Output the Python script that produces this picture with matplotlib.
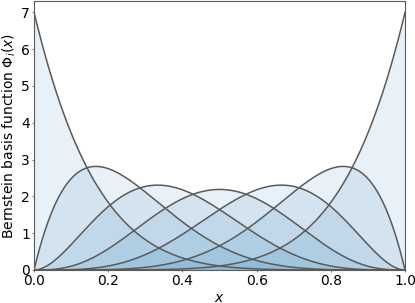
import numpy as np
import matplotlib
matplotlib.use("Agg")
import matplotlib.pyplot as plt
from math import comb

# Bernstein basis of degree 6, scaled by (n + 1) so each integrates to 1
degree = 6
indices = [0, 1, 2, 3, 4, 5, 6]
scale = degree + 1

x = np.linspace(0, 1, 400)

plt.rcParams["font.size"] = 10

fig, ax = plt.subplots(figsize=(4.15, 3.03), dpi=100)
for i in indices:
    y = scale * comb(degree, i) * x**i * (1 - x)**(degree - i)
    ax.fill_between(x, 0, y, color="C0", alpha=0.1, lw=0)
    ax.plot(x, y, color="#5a5a5a", lw=1.1)

ax.set_xlim(0, 1)
ax.set_ylim(0, 7.3)
ax.set_xticks([0.0, 0.2, 0.4, 0.6, 0.8, 1.0])
ax.set_yticks(range(8))
ax.tick_params(length=1.5, width=0.6, pad=1.5, color="#5a5a5a")
ax.set_xlabel("$x$", labelpad=2)
ax.set_ylabel(r"Bernstein basis function $\Phi_i(x)$", labelpad=2)
for s in ax.spines.values():
    s.set_color("#5a5a5a")
fig.subplots_adjust(left=0.082, right=0.976, top=0.996, bottom=0.109)
fig.savefig("out.png", dpi=100)
